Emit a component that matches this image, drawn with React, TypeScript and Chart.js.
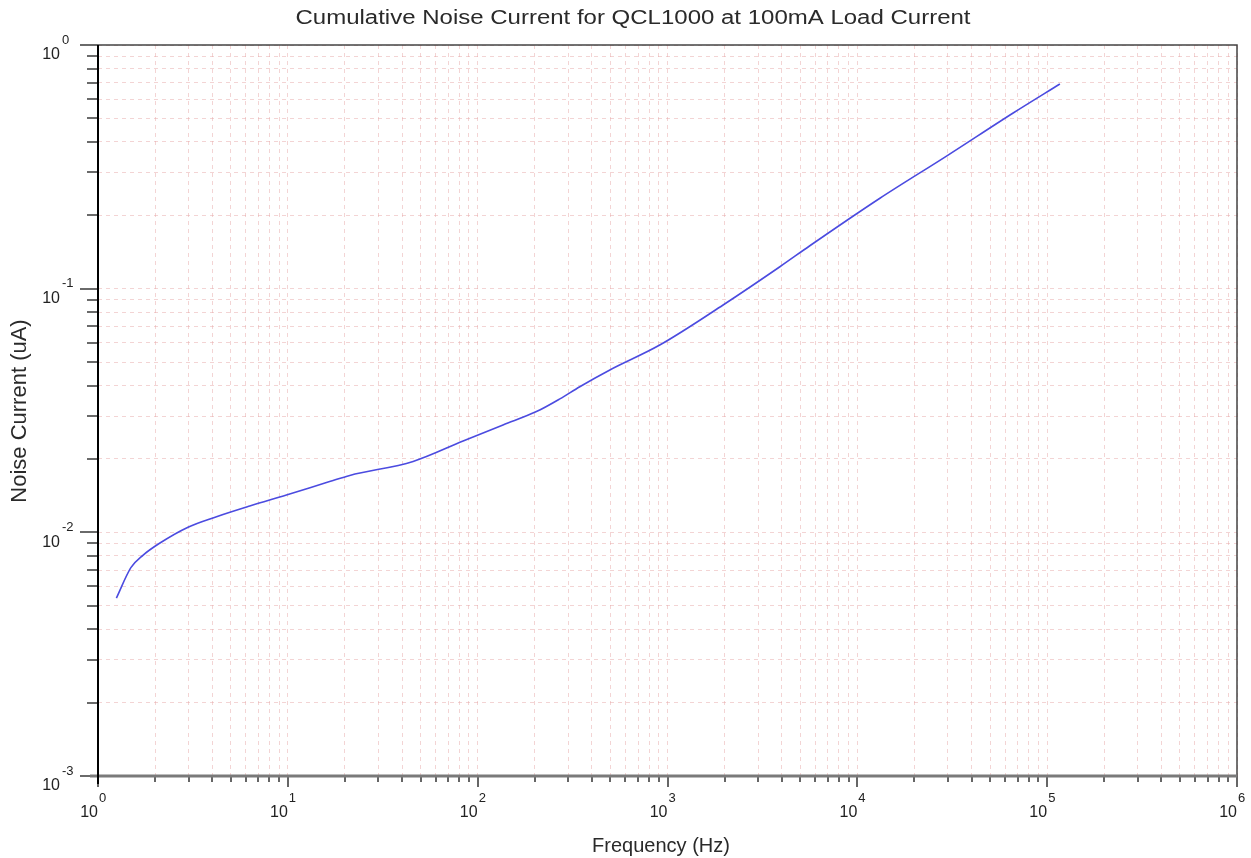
import React, { useEffect, useRef } from 'react';
import { Chart, registerables } from 'chart.js';

Chart.register(...registerables);

const TITLE = 'Cumulative Noise Current for QCL1000 at 100mA Load Current';
const X_LABEL = 'Frequency (Hz)';
const Y_LABEL = 'Noise Current (uA)';

const frequencyHz = [
  1.25, 1.49, 1.73, 2.11, 2.98, 4.21, 6.3, 9.83, 16.6, 21.2, 45.7, 83.8, 136, 204, 271, 345, 497,
  910, 1963, 3908, 5620, 13150, 29500, 66200, 116700,
];
const noiseCurrentUA = [
  0.00537, 0.00716, 0.00807, 0.00902, 0.0105, 0.01159, 0.01282, 0.01423, 0.01615, 0.01712,
  0.01954, 0.0237, 0.0276, 0.0313, 0.0353, 0.0396, 0.0464, 0.0587, 0.0857, 0.123, 0.15, 0.235,
  0.35, 0.526, 0.692,
];
const xDecades = [0, 1, 2, 3, 4, 5, 6];
const yDecades = [-3, -2, -1, 0];
const minorMultipliers = [1, 2, 3, 4, 5, 6, 7, 8, 9];

const FONT = "'Liberation Sans', Arial, sans-serif";

function buildTicks(decades: number[]) {
  const out: { value: number; major: boolean }[] = [];
  decades.forEach((d, i) => {
    if (i === decades.length - 1) {
      out.push({ value: Math.pow(10, d), major: true });
      return;
    }
    minorMultipliers.forEach((m) => {
      out.push({ value: m * Math.pow(10, d), major: m === 1 });
    });
  });
  return out;
}

const decorPlugin = {
  id: 'decor',
  afterDraw(chart: any) {
    const { ctx, chartArea: a, scales } = chart;
    const xs = scales.x;
    const ys = scales.y;
    ctx.save();

    // tick marks y (outside left)
    ctx.strokeStyle = '#6a6a6a';
    ctx.lineWidth = 2;
    ys.ticks.forEach((t: any) => {
      const py = Math.round(ys.getPixelForValue(t.value));
      ctx.beginPath();
      ctx.moveTo(a.left - (t.major ? 18 : 11), py);
      ctx.lineTo(a.left, py);
      ctx.stroke();
    });
    // tick marks x (outside bottom)
    ctx.strokeStyle = '#333';
    ctx.lineWidth = 1.5;
    xs.ticks.forEach((t: any) => {
      const px = Math.round(xs.getPixelForValue(t.value));
      ctx.beginPath();
      ctx.moveTo(px, a.bottom);
      ctx.lineTo(px, a.bottom + (t.major ? 11 : 6));
      ctx.stroke();
    });

    // frame
    ctx.strokeStyle = '#444';
    ctx.lineWidth = 1.5;
    ctx.beginPath();
    ctx.moveTo(a.left, a.top);
    ctx.lineTo(a.right, a.top);
    ctx.lineTo(a.right, a.bottom);
    ctx.stroke();
    ctx.strokeStyle = '#7a7a7a';
    ctx.lineWidth = 3;
    ctx.beginPath();
    ctx.moveTo(a.left - 8, a.bottom);
    ctx.lineTo(a.right, a.bottom);
    ctx.stroke();
    ctx.strokeStyle = '#000';
    ctx.lineWidth = 2;
    ctx.beginPath();
    ctx.moveTo(a.left, a.top);
    ctx.lineTo(a.left, a.bottom + 8);
    ctx.stroke();

    // tick labels
    ctx.fillStyle = '#222';
    ctx.textBaseline = 'middle';
    xDecades.forEach((d) => {
      const px = xs.getPixelForValue(Math.pow(10, d));
      ctx.font = `16px ${FONT}`;
      ctx.textAlign = 'right';
      ctx.fillText('10', px, a.bottom + 37);
      ctx.font = `13px ${FONT}`;
      ctx.textAlign = 'left';
      ctx.fillText(String(d), px + 1, a.bottom + 22);
    });
    yDecades.forEach((d) => {
      const py = ys.getPixelForValue(Math.pow(10, d));
      ctx.font = `16px ${FONT}`;
      ctx.textAlign = 'right';
      ctx.fillText('10', a.left - 38, py + 10);
      ctx.font = `13px ${FONT}`;
      ctx.textAlign = 'left';
      ctx.fillText(String(d), a.left - 36, py - 5);
    });

    // titles
    ctx.fillStyle = '#2a2a2a';
    ctx.textAlign = 'center';
    ctx.save();
    ctx.translate(633, 18);
    ctx.scale(1.2, 1);
    ctx.font = `20px ${FONT}`;
    ctx.fillText(TITLE, 0, 0);
    ctx.restore();
    ctx.font = `20px ${FONT}`;
    ctx.fillText(X_LABEL, 661, 846);
    ctx.save();
    ctx.translate(20, 411);
    ctx.rotate(-Math.PI / 2);
    ctx.font = `22px ${FONT}`;
    ctx.fillText(Y_LABEL, 0, 0);
    ctx.restore();

    ctx.restore();
  },
};

export default function App() {
  const ref = useRef<HTMLCanvasElement>(null);
  useEffect(() => {
    document.body.style.margin = '0';
    const canvas = ref.current!;
    const gridOpts = {
      color: 'rgba(232, 170, 170, 0.5)',
      lineWidth: 1,
      drawTicks: false,
    };
    const chart = new Chart(canvas, {
      type: 'line',
      data: {
        datasets: [
          {
            data: frequencyHz.map((f, i) => ({ x: f, y: noiseCurrentUA[i] })),
            borderColor: '#4b4be0',
            borderWidth: 1.6,
            pointRadius: 0,
            cubicInterpolationMode: 'monotone',
            fill: false,
          },
        ],
      },
      options: {
        animation: false,
        responsive: false,
        devicePixelRatio: 1,
        layout: { padding: { left: 98, top: 45, right: 14, bottom: 82 } },
        plugins: { legend: { display: false }, title: { display: false }, tooltip: { enabled: false } },
        scales: {
          x: {
            type: 'logarithmic',
            min: 1,
            max: 1e6,
            afterBuildTicks: (s: any) => {
              s.ticks = buildTicks(xDecades);
            },
            ticks: { display: false },
            grid: gridOpts,
            border: { display: false, dash: [4, 4] },
          },
          y: {
            type: 'logarithmic',
            min: 1e-3,
            max: 1,
            afterBuildTicks: (s: any) => {
              s.ticks = buildTicks(yDecades);
            },
            ticks: { display: false },
            grid: gridOpts,
            border: { display: false, dash: [4, 4] },
          },
        },
      } as any,
      plugins: [decorPlugin],
    });
    return () => chart.destroy();
  }, []);
  return (
    <div style={{ position: 'absolute', left: 0, top: 0, width: 1251, height: 858, background: '#fff' }}>
      <canvas ref={ref} width={1251} height={858} style={{ display: 'block' }} />
    </div>
  );
}
